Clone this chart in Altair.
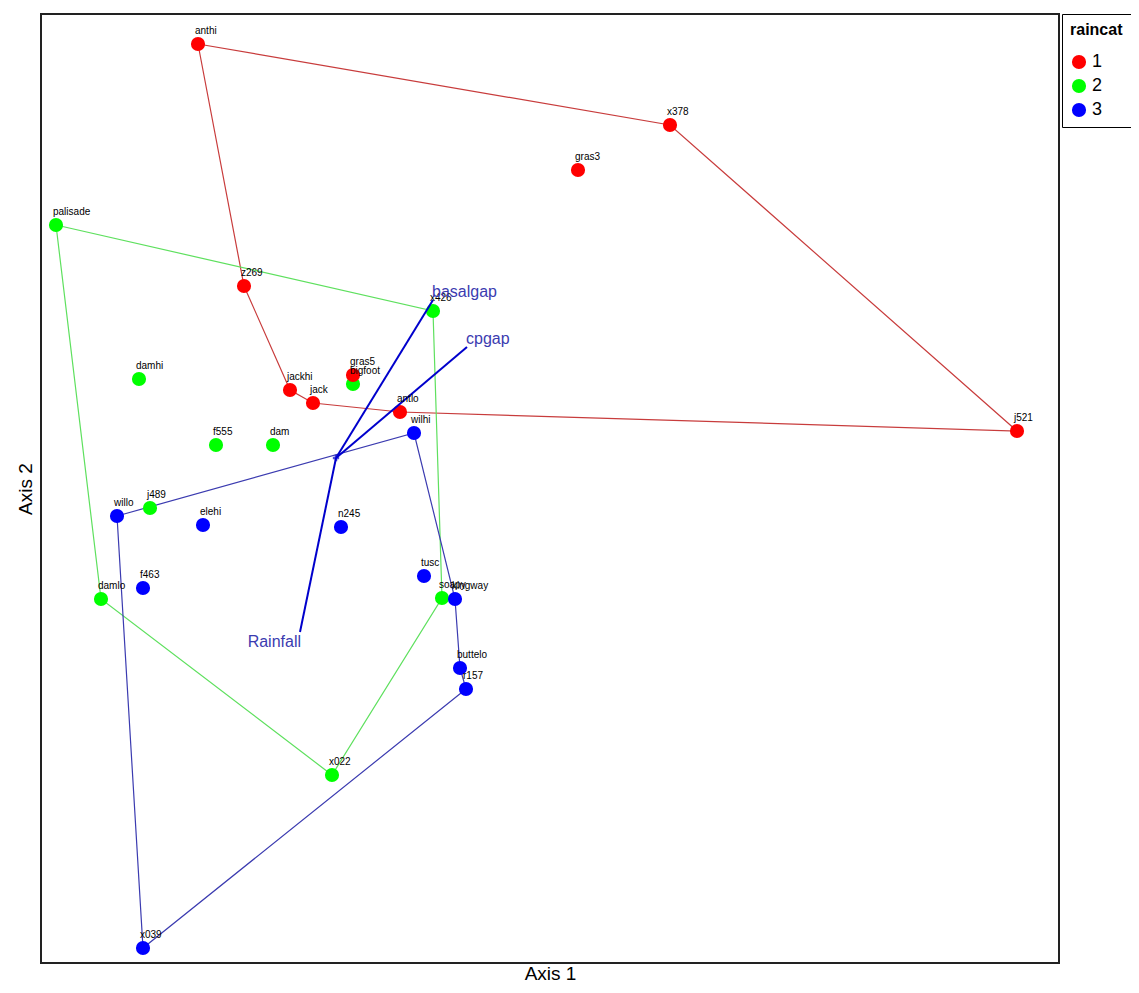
import altair as alt
import pandas as pd

# Site scores (Axis 1, Axis 2)
sites = ["anthi", "x378", "gras3", "z269", "gras5", "jackhi", "jack", "antlo", "j521",
         "palisade", "x426", "damhi", "bigfoot", "f555", "dam", "j489", "damlo", "soapy", "x022",
         "wilhi", "willo", "elehi", "n245", "f463", "tusc", "kingway", "buttelo", "r157", "x039"]
raincat = ["1"] * 9 + ["2"] * 10 + ["3"] * 10
axis1 = [157, 629, 537, 203, 312, 249, 272, 359, 976,
         15, 392, 98, 312, 175, 232, 109, 60, 401, 291,
         373, 76, 162, 300, 102, 383, 414, 419, 425, 102]
axis2 = [919, 838, 793, 677, 588, 573, 560, 551, 532,
         738, 652, 584, 579, 518, 518, 455, 364, 365, 188,
         530, 447, 438, 436, 375, 387, 364, 295, 274, 15]

# Convex hull order per group
hull_red = ["anthi", "x378", "j521", "antlo", "jack", "jackhi", "z269", "anthi"]
hull_green = ["palisade", "x426", "soapy", "x022", "damlo", "palisade"]
hull_blue = ["willo", "wilhi", "kingway", "buttelo", "r157", "x039", "willo"]

# Biplot vectors
vec_names = ["basalgap", "cpgap", "Rainfall"]
vec_x = [392, 426, 259]
vec_y = [663, 616, 331]
origin = (295, 505)

cats = ["1", "2", "3"]
cat_colors = ["#FF0000", "#00FF00", "#0000FF"]
hull_colors = ["#C83C3C", "#5EE05E", "#3B3BB0"]
draw_rank = {"1": 3, "2": 1, "3": 2}

pts = pd.DataFrame({"site": sites, "raincat": raincat, "a1": axis1, "a2": axis2})
pts["rank"] = pts["raincat"].map(draw_rank)
lookup = {s: (x, y) for s, x, y in zip(sites, axis1, axis2)}

vecs = pd.DataFrame({"name": vec_names, "x0": [origin[0]] * 3, "y0": [origin[1]] * 3,
                     "x1": vec_x, "y1": vec_y})

xs = alt.Scale(domain=[0, 1018], nice=False, zero=False)
ys = alt.Scale(domain=[0, 949], nice=False, zero=False)
noaxis = dict(labels=False, ticks=False, grid=False, domain=False)
X = alt.X("a1:Q", scale=xs, title="Axis 1",
          axis=alt.Axis(**noaxis, titleFontSize=19, titleFont="Liberation Sans",
                        titleFontWeight="normal", titlePadding=1, titleColor="black"))
Y = alt.Y("a2:Q", scale=ys, title="Axis 2",
          axis=alt.Axis(**noaxis, titleFontSize=19, titleFont="Liberation Sans",
                        titleFontWeight="normal", titlePadding=6, titleColor="black"))

hull_layers = []
for hull, col in zip([hull_red, hull_green, hull_blue], hull_colors):
    hdf = pd.DataFrame({"ord": list(range(len(hull))),
                        "a1": [lookup[s][0] for s in hull],
                        "a2": [lookup[s][1] for s in hull]})
    hull_layers.append(alt.Chart(hdf).mark_line(strokeWidth=1.2, color=col).encode(
        x=X, y=Y, order="ord:Q"))

point_layer = alt.Chart(pts).mark_circle(size=200, opacity=1).encode(
    x=X, y=Y,
    color=alt.Color("raincat:N", scale=alt.Scale(domain=cats, range=cat_colors),
                    legend=alt.Legend(title="raincat", orient="none", legendX=1021, legendY=0,
                                      strokeColor="black", padding=8,
                                      titleFontSize=16, titleFont="Liberation Sans",
                                      titleColor="black", labelColor="black",
                                      labelFont="Liberation Sans", labelFontSize=18,
                                      symbolSize=200, symbolStrokeWidth=0, symbolOpacity=1,
                                      rowPadding=6, titlePadding=15, symbolType="circle",
                                      labelOffset=4)),
    order="rank:Q",
)

label_layer = alt.Chart(pts).mark_text(align="left", baseline="bottom", dx=-3, dy=-8,
                                       fontSize=10, font="Liberation Sans", color="black").encode(
    x=X, y=Y, text="site:N"
)

vec_layer = alt.Chart(vecs).mark_rule(color="#0000CC", strokeWidth=2).encode(
    x=alt.X("x0:Q", scale=xs), y=alt.Y("y0:Q", scale=ys), x2="x1:Q", y2="y1:Q"
)

origin_layer = alt.Chart(pd.DataFrame({"a1": [origin[0]], "a2": [origin[1]]})).mark_point(
    shape="cross", size=40, color="#0000CC", filled=True).encode(x=X, y=Y)

vlab_up = alt.Chart(vecs[vecs["name"] != "Rainfall"]).mark_text(
    align="left", baseline="middle", dx=-1, dy=-8, fontSize=16, font="Liberation Sans", color="#3B3BB0"
).encode(x=alt.X("x1:Q", scale=xs), y=alt.Y("y1:Q", scale=ys), text="name:N")

vlab_down = alt.Chart(vecs[vecs["name"] == "Rainfall"]).mark_text(
    align="right", baseline="middle", dx=1, dy=10, fontSize=16, font="Liberation Sans", color="#3B3BB0"
).encode(x=alt.X("x1:Q", scale=xs), y=alt.Y("y1:Q", scale=ys), text="name:N")

chart = alt.layer(*hull_layers, point_layer, vec_layer, origin_layer, label_layer, vlab_up, vlab_down).properties(
    width=1018, height=949,
    background="white",
    autosize=alt.AutoSizeParams(type="none"),
    padding={"left": 33, "top": 6, "right": 72, "bottom": 20},
).configure_view(stroke="#222222", strokeWidth=2).configure_legend(strokeWidth=1)

chart.save("out.html", embed_options={"renderer": "svg", "actions": False})
